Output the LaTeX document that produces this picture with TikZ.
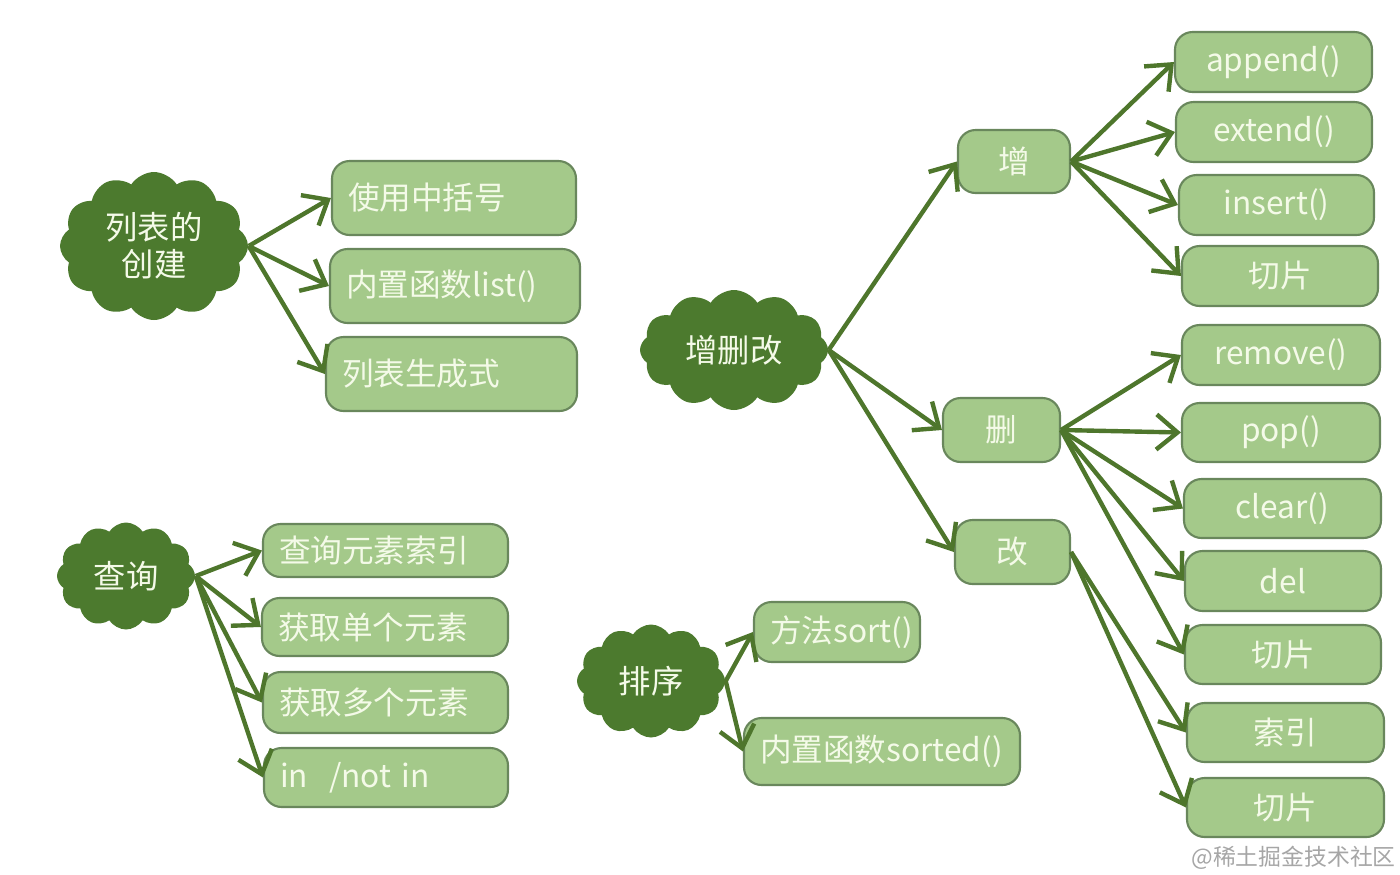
\documentclass[tikz,border=0pt]{standalone}
\usepackage{fontspec}
\setmainfont{Noto Sans CJK SC}
\usetikzlibrary{shapes.symbols,arrows.meta,positioning}
\definecolor{cloudgreen}{RGB}{76,122,46}
\definecolor{leafgreen}{RGB}{164,201,138}
\definecolor{leafborder}{RGB}{105,135,92}
\definecolor{arrowgreen}{RGB}{78,118,44}
\definecolor{paletext}{RGB}{244,250,232}
\tikzset{
    topic/.style={
        cloud,
        cloud puffs=12,
        cloud puff arc=115,
        cloud ignores aspect,
        fill=cloudgreen,
        text=paletext,
        align=center,
        inner sep=0pt,
        font=\fontsize{9.2}{10.5}\selectfont
    },
    leaf/.style={
        rectangle,
        rounded corners=5pt,
        draw=leafborder,
        line width=0.6pt,
        fill=leafgreen,
        text=paletext,
        inner sep=0pt,
        align=center,
        font=\fontsize{9}{11}\selectfont
    },
    leftleaf/.style={
        leaf,
        align=left,
        inner xsep=0.16cm
    },
    branch/.style={
        -{Straight Barb[length=6pt,width=10pt]},
        draw=arrowgreen,
        line width=1.25pt
    }
}

\begin{document}
\begin{tikzpicture}
\useasboundingbox (0,0) rectangle (14,-8.74);

% 列表的创建
\node[topic, minimum width=1.88cm, minimum height=1.48cm] (create) at (1.54,-2.46) {列表的\\创建};
\node[leftleaf, text width=2.12cm, minimum height=0.74cm] (brackets) at (4.54,-1.98) {使用中括号};
\node[leftleaf, text width=2.18cm, minimum height=0.74cm] (listfunc) at (4.55,-2.86) {内置函数list()};
\node[leftleaf, text width=2.19cm, minimum height=0.74cm] (compr) at (4.515,-3.74) {列表生成式};

% 增删改
\node[topic, minimum width=1.88cm, minimum height=1.20cm] (modify) at (7.34,-3.50) {增删改};
\node[leaf, minimum width=1.12cm, minimum height=0.63cm] (add) at (10.14,-1.615) {增};
\node[leaf, minimum width=1.17cm, minimum height=0.64cm] (remove) at (10.015,-4.30) {删};
\node[leaf, minimum width=1.15cm, minimum height=0.64cm] (change) at (10.125,-5.52) {改};

% 增
\node[leaf, minimum width=1.97cm, minimum height=0.60cm] (append) at (12.735,-0.62) {append()};
\node[leaf, minimum width=1.96cm, minimum height=0.60cm] (extend) at (12.74,-1.32) {extend()};
\node[leaf, minimum width=1.95cm, minimum height=0.60cm] (insert) at (12.765,-2.05) {insert()};
\node[leaf, minimum width=1.96cm, minimum height=0.60cm] (addslice) at (12.80,-2.76) {切片};

% 删
\node[leaf, minimum width=1.98cm, minimum height=0.60cm] (removefn) at (12.81,-3.55) {remove()};
\node[leaf, minimum width=1.98cm, minimum height=0.59cm] (pop) at (12.81,-4.325) {pop()};
\node[leaf, minimum width=1.97cm, minimum height=0.59cm] (clear) at (12.825,-5.085) {clear()};
\node[leaf, minimum width=1.96cm, minimum height=0.60cm] (del) at (12.83,-5.81) {del};
\node[leaf, minimum width=1.96cm, minimum height=0.59cm] (delslice) at (12.83,-6.545) {切片};

% 改
\node[leaf, minimum width=1.97cm, minimum height=0.59cm] (index) at (12.855,-7.325) {索引};
\node[leaf, minimum width=1.97cm, minimum height=0.59cm] (setslice) at (12.855,-8.075) {切片};

% 查询
\node[topic, minimum width=1.38cm, minimum height=1.07cm] (query) at (1.26,-5.76) {查询};
\node[leftleaf, text width=2.13cm, minimum height=0.53cm] (findidx) at (3.855,-5.505) {查询元素索引};
\node[leftleaf, text width=2.14cm, minimum height=0.58cm] (getone) at (3.85,-6.27) {获取单个元素};
\node[leftleaf, text width=2.13cm, minimum height=0.61cm] (getmany) at (3.855,-7.025) {获取多个元素};
\node[leftleaf, text width=2.12cm, minimum height=0.59cm] (member) at (3.86,-7.775) {in~~/not in};

% 排序
\node[topic, minimum width=1.48cm, minimum height=1.13cm] (sorting) at (6.51,-6.81) {排序};
\node[leftleaf, text width=1.34cm, minimum height=0.60cm] (sortm) at (8.37,-6.32) {方法sort()};
\node[leftleaf, text width=2.44cm, minimum height=0.67cm] (sortedf) at (8.82,-7.515) {内置函数sorted()};

\node[text=gray!70, font=\fontsize{6.5}{7}\selectfont, anchor=south east, inner sep=1pt] (mark) at (14,-8.74) {@稀土掘金技术社区};

\draw[branch] (create.east) -- (brackets.west);
\draw[branch] (create.east) -- (listfunc.west);
\draw[branch] (create.east) -- (compr.west);

\draw[branch] (modify.east) -- (add.west);
\draw[branch] (modify.east) -- (remove.west);
\draw[branch] (modify.east) -- (change.west);

\foreach \t in {append,extend,insert,addslice}
    \draw[branch] (add.east) -- (\t.west);
\foreach \t in {removefn,pop,clear,del,delslice}
    \draw[branch] (remove.east) -- (\t.west);
\foreach \t in {index,setslice}
    \draw[branch] (change.east) -- (\t.west);

\foreach \t in {findidx,getone,getmany,member}
    \draw[branch] (query.east) -- (\t.west);

\draw[branch] (sorting.east) -- (sortm.west);
\draw[branch] (sorting.east) -- (sortedf.west);
\end{tikzpicture}
\end{document}
